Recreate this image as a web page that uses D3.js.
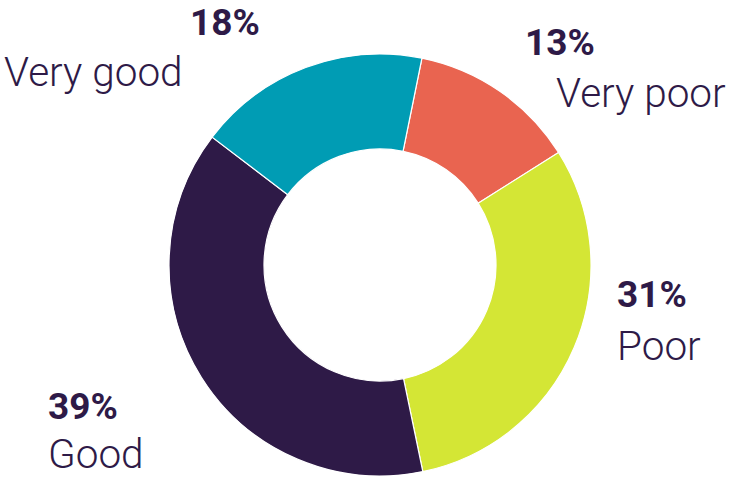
<!DOCTYPE html>
<html>
<head>
<meta charset="utf-8">
<script src="https://cdn.jsdelivr.net/npm/d3@7"></script>
<style>
  html, body { margin: 0; padding: 0; background: #fff; }
  svg { display: block; }
  text { font-family: Roboto, "Noto Sans", sans-serif; fill: #2e1a47; }
</style>
</head>
<body>
<svg id="chart" width="731" height="479"></svg>
<script>
// Survey rating shares (percent), clockwise from the top
const categories = ["Very poor", "Poor", "Good", "Very good"];
const values = [13, 31, 39, 18];
const colors = ["#e96450", "#d4e635", "#2e1a47", "#009cb4"];

// Label anchor positions (left edge / baseline of the percent line, and of the name line)
const labelPos = {
  "Very poor": { pct: [525, 55], name: [556, 107] },
  "Poor":      { pct: [617, 307], name: [617, 360] },
  "Good":      { pct: [48, 419], name: [48, 468] },
  "Very good": { pct: [190, 35], name: [4, 86] }
};

const svg = d3.select("#chart");
const cx = 380, cy = 265, outerR = 211, innerR = 116;

const pie = d3.pie().sort(null).value(d => d.value)
  .startAngle(0.2).endAngle(0.2 + 2 * Math.PI);
const arc = d3.arc().innerRadius(innerR).outerRadius(outerR);
const color = d3.scaleOrdinal().domain(categories).range(colors);

const data = categories.map((c, i) => ({ category: c, value: values[i] }));

const g = svg.append("g").attr("transform", `translate(${cx},${cy})`);
g.selectAll("path")
  .data(pie(data))
  .join("path")
  .attr("d", arc)
  .attr("fill", d => color(d.data.category))
  .attr("stroke", "#fff")
  .attr("stroke-width", 1.2);

const labels = svg.append("g");
data.forEach(d => {
  const p = labelPos[d.category];
  labels.append("text")
    .attr("x", p.pct[0]).attr("y", p.pct[1])
    .attr("font-size", 37).attr("font-weight", 700)
    .text(d.value + "%");
  labels.append("text")
    .attr("x", p.name[0]).attr("y", p.name[1])
    .attr("font-size", 40.5).attr("font-weight", 300)
    .text(d.category);
});
</script>
</body>
</html>
